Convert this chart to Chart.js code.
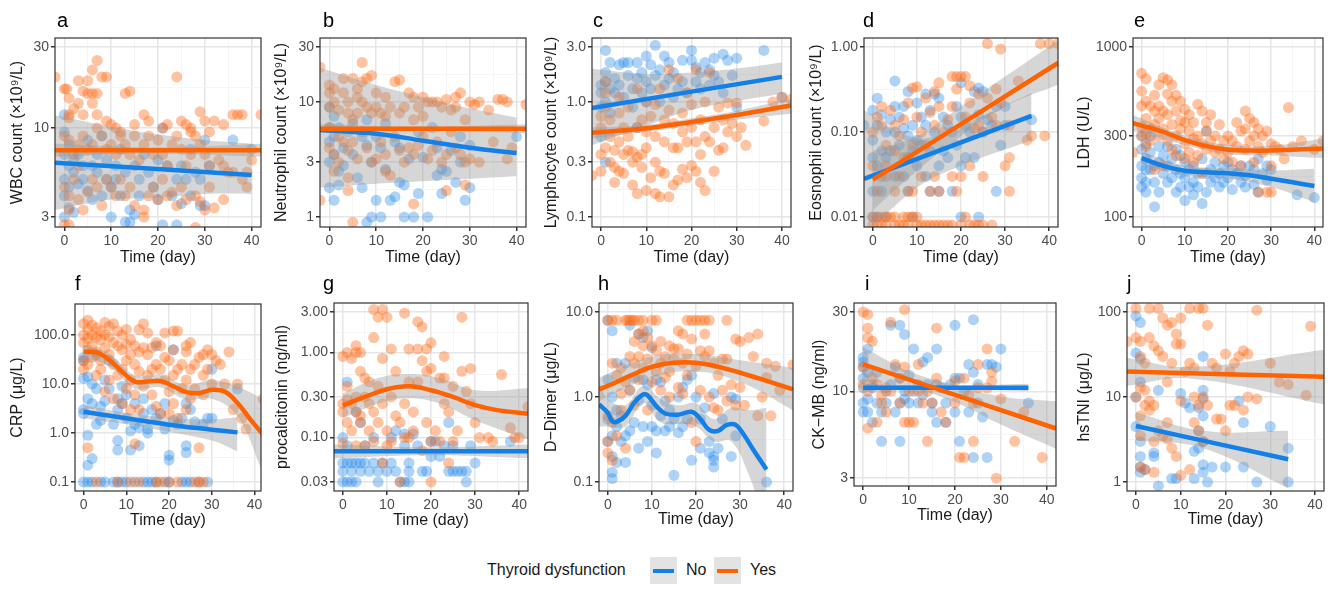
<!DOCTYPE html>
<html>
<head>
<meta charset="utf-8">
<script src="https://cdn.jsdelivr.net/npm/chart.js@4.4.1/dist/chart.umd.min.js"></script>
<style>
  body { margin: 0; background: #fff; }
  #fig { position: relative; width: 1330px; height: 592px; overflow: hidden; font-family: "Liberation Sans", Arial, Helvetica, sans-serif; color: #1a1a1a; }
  #fig canvas { position: absolute; }
  .tag { position: absolute; font-size: 20px; line-height: 20px; color: #000; }
  .lg { position: absolute; font-size: 16px; line-height: 20px; color: #1a1a1a; }
  .key { position: absolute; width: 27px; height: 27px; background: #e3e3e3; }
  .key span { position: absolute; left: 3px; top: 11.5px; width: 21px; height: 4px; }
</style>
</head>
<body>
<div id="fig"></div>
<script>
const FONT = '"Liberation Sans", Arial, Helvetica, sans-serif';
const BLUE = 'rgb(19,128,232)';
const ORANGE = 'rgb(255,98,0)';
const BLUE_PT = 'rgba(30,134,232,0.36)';
const ORANGE_PT = 'rgba(255,105,20,0.4)';
const BAND = 'rgba(153,153,153,0.4)';

// shared x axis
const xTicks = [0, 10, 20, 30, 40];
const xMinor = [5, 15, 25, 35];

// a: WBC
const aTicks = [3, 10, 30];
const aLabels = ['3', '10', '30'];
const aYes = [[-2,20],[0,17],[0.5,17],[1,15],[1,12],[1,11.5],[3,19],[3,14],[2,13],[4,12],[4,16.5],[5,19],[5,16],[6,22],[6,16],[7,25],[7,16],[6,14],[7,12],[8,20],[9,20],[9,11],[10,10.5],[11,10],[13,16],[14,16.5],[15,10.5],[12,9.5],[17,12],[18,11],[21,10],[22,10.5],[24,20],[25,11],[26,10.5],[27,10],[27,9.5],[29,12.5],[30,11],[32,11],[34,10.5],[36,12],[37,12],[38,12],[42,12],[31,9.5],[28,9],
  [0,9],[1,8.5],[2,7],[3,8],[3,6],[4,9],[5,7.5],[6,8],[7,10],[8,9],[9,7.5],[10,8],[11,7],[12,9],[13,8],[14,7],[15,9],[16,6.5],[17,8],[18,9],[19,7],[20,8.5],[21,7],[22,6],[23,8],[24,9],[25,7.5],[26,6],[27,7],[29,8],[30,7],[31,6],[33,6.5],[34,6],[35,5.5],[36,5.5],[38,5],[39,5.5],[40,6.5],[39,4.5],
  [0,4.5],[1,4],[1,3.3],[2,5],[3,3.8],[4,3.3],[5,4.2],[6,5],[7,4.5],[8,3.5],[9,5],[10,4.5],[11,4],[12,5],[13,4],[14,4.5],[15,3.5],[17,3.3],[17,3],[18,4],[19,4.5],[20,3.8],[21,5],[22,4],[23,4.2],[24,3.5],[25,4.5],[26,3.8],[28,4],[29,3.7],[30,3.3],[31,4.5],[32,3.4],[34,3.8],[0,2.7],[1,2.7],[28,2.6]];
const aNo = [[0,12],[0,9.5],[0,7],[0,5],[0,4],[0,3],[1,8],[1,6],[1,4.5],[1,3.4],[2,6.5],[2,5.5],[2,3.2],[3,7],[3,4.7],[4,6],[4,5],[5,8.5],[5,4.3],[6,6],[6,3.8],[7,7],[7,5.5],[8,4],[8,9],[9,6.5],[9,5],[10,4.5],[10,3],[11,6],[11,5],[12,7.5],[12,4],[13,2.8],[13,5.5],[14,3.3],[14,2.8],[15,3.1],[15,6],[16,5],[16,4],[17,7],[18,5.5],[19,4.5],[20,3.8],[20,6.5],[21,10],[21,2.7],[22,6],[23,4],[24,5],[24,2.7],[25,6],[25,3.6],[26,5],[27,7.5],[27,4],[28,5.5],[29,3.5],[30,8.5],[30,3.5],[29,5],[31,6],[36,8.5],[40,7.5]];
const aNoFit = [[-2,6.26],[40,5.3]];
const aYesFit = [[-2,7.4],[42,7.4]];
const aNoBand = [[-2,3.3,11.9],[10,3.8,10.2],[20,3.9,9.2],[30,4.1,8.5],[40,4.1,8.1]];
const aYesBand = [[-2,6.8,8.1],[20,7.1,7.7],[42,6.8,8.1]];

// b: neutrophil
const bTicks = [1, 3, 10, 30];
const bLabels = ['1', '3', '10', '30'];
const bYes = [[-2,20],[0,14],[0,12],[1,13],[1,10],[0,9],[2,8.5],[3,16],[3,12],[4,10],[4,8],[5,16],[5,7],[6,13],[6,11],[6,8],[7,22],[7,15],[7,10],[8,16],[8,9],[9,17],[9,8],[10,12],[10,9],[11,8],[12,7.5],[12,11],[13,9],[14,15],[15,15.5],[15,8],[16,9],[17,12],[18,11],[18,7],[19,9],[20,7.5],[20,11],[21,10],[22,10],[23,10],[24,9],[25,10.5],[26,8.5],[27,9],[27,11],[28,12],[29,7],[30,10],[31,9.5],[32,10],[34,8.5],[36,10.5],[37,10.5],[38,10],[42,9.5],
  [0,6],[0,4],[1,3.5],[1,2.5],[2,5],[2,3],[3,4.5],[4,3.8],[4,2.2],[5,4.5],[6,3.2],[7,5.5],[8,4],[9,3],[10,3.2],[11,4.5],[12,3.5],[12,2.5],[13,2.3],[14,5],[15,3.8],[16,3],[17,4],[18,3.5],[19,4.2],[20,5],[21,3.2],[22,3.8],[23,4.5],[24,3],[25,3.5],[26,5.5],[27,4],[28,3.5],[29,3],[30,3.2],[32,3],[35,4.5],[38,3.2],[39,4],
  [-2,1.4],[4,1.7],[5,0.9],[18,1.3],[25,1.7],[29,1.9]];
const bNo = [[0,9],[0,6],[0,4.5],[0,3],[0,1.8],[1,7.5],[1,5],[1,3.5],[1,1.4],[2,2.5],[2,6],[2,1.9],[3,4],[3,2.8],[4,5.5],[5,6.5],[5,3.5],[6,2.2],[7,5],[7,1.8],[8,7],[8,0.9],[8,4.2],[9,1],[9,3],[10,1.4],[10,5],[11,1],[11,4],[12,6.5],[12,2.6],[13,1.4],[14,4.5],[14,1.5],[15,2],[15,4],[16,1.9],[16,1],[17,3.2],[18,1],[19,5.5],[19,1.6],[20,3.3],[21,1],[22,6],[23,4],[23,2.3],[24,1.6],[24,2.6],[25,2.5],[26,3.8],[27,2],[28,3],[28,5],[29,1.4],[30,1.8],[30,4.2],[40,5]];
const bNoFit = [[-2,5.7],[10,5.3],[20,4.6],[30,4.0],[40,3.6]];
const bYesFit = [[-2,5.86],[42,5.86]];
const bNoBand = [[-2,1.8,19.8],[10,1.95,14],[20,2.05,11],[30,2.15,8.8],[40,2.26,7.3]];
const bYesBand = [[-2,5.4,6.4],[20,5.6,6.1],[42,5.4,6.4]];

// c: lymphocyte
const cTicks = [0.1, 0.3, 1, 3];
const cLabels = ['0.1', '0.3', '1.0', '3.0'];
const cYes = [[-2,0.23],[0,0.25],[0,0.35],[0,0.6],[0,0.75],[1,0.4],[1,1.5],[1,1.2],[1,0.9],[2,0.3],[2,0.5],[2,0.7],[3,0.38],[3,0.27],[3,0.2],[4,0.25],[4,0.45],[4,0.8],[4,1.1],[5,0.35],[5,0.6],[5,0.24],[6,0.38],[6,0.5],[6,0.9],[7,0.19],[7,0.3],[7,0.37],[8,0.16],[8,0.33],[8,0.6],[8,1.3],[9,0.35],[9,0.27],[9,0.7],[10,0.17],[10,0.4],[10,0.55],[10,1.0],[11,0.22],[11,0.75],[12,0.16],[12,0.5],[12,0.3],[12,0.95],[13,0.25],[13,0.15],[13,1.3],[14,0.24],[14,0.45],[14,0.7],[15,0.15],[15,0.85],[15,1.9],[16,0.19],[16,0.4],[16,0.65],[17,0.21],[17,0.4],[17,1.6],[18,0.26],[18,0.55],[18,0.8],[19,0.22],[19,0.45],[19,1.2],[20,0.28],[20,0.6],[20,0.95],[21,0.25],[21,0.45],[21,1.9],[22,0.2],[22,0.35],[22,0.7],[23,0.17],[23,0.5],[23,1.0],[24,0.45],[24,1.8],[25,0.25],[25,0.6],[26,0.9],[26,0.38],[27,0.4],[27,0.7],[28,0.55],[28,0.98],[29,0.65],[30,0.5],[30,0.98],[31,0.6],[32,0.42],[36,0.68],[38,1.0],[40,1.1],[42,1.05]];
const cNo = [[0,1.4],[0,1.2],[0,0.9],[0,0.5],[1,2.8],[1,1.8],[1,1.5],[1,1.0],[1,0.3],[2,2.2],[2,1.3],[2,0.8],[3,1.6],[3,1.2],[4,2.1],[4,1.4],[5,2.2],[5,1.1],[6,1.7],[6,2.2],[7,1.3],[7,0.9],[8,2.2],[8,1.6],[8,0.6],[9,1.8],[9,1.2],[10,2.5],[10,1.5],[10,1.0],[11,2.1],[11,1.3],[12,3.1],[12,1.7],[13,1.9],[13,1.0],[14,2.5],[14,1.4],[15,2.2],[15,1.6],[16,1.8],[16,1.1],[17,1.3],[18,2.3],[18,1.5],[19,1.2],[20,2.8],[20,2.3],[21,1.5],[21,2.0],[22,1.8],[22,1.3],[23,2.2],[24,1.9],[24,1.4],[25,2.4],[25,1.7],[26,1.5],[27,2.6],[27,1.2],[28,2.3],[29,1.7],[30,2.4],[30,0.9],[36,2.8],[40,1.1]];
const cNoFit = [[-2,0.887],[40,1.65]];
const cYesFit = [[-2,0.54],[10,0.59],[20,0.67],[30,0.77],[42,0.93]];
const cNoBand = [[-2,0.42,1.94],[10,0.62,1.75],[20,0.85,1.8],[30,1.02,1.95],[40,1.18,2.2]];
const cYesBand = [[-2,0.48,0.6],[10,0.55,0.63],[20,0.62,0.72],[30,0.7,0.84],[42,0.79,1.07]];

// d: eosinophil
const dTicks = [0.01, 0.1, 1];
const dLabels = ['0.01', '0.10', '1.00'];
const dYes = [[0,0.01],[0,0.008],[1,0.01],[1,0.008],[2,0.008],[3,0.01],[3,0.008],[4,0.01],[5,0.008],[5,0.01],[6,0.008],[7,0.008],[8,0.01],[8,0.008],[9,0.01],[10,0.01],[10,0.008],[11,0.008],[12,0.008],[13,0.008],[14,0.008],[15,0.008],[16,0.008],[17,0.008],[18,0.008],[20,0.008],[21,0.01],[22,0.008],[23,0.008],[24,0.008],[25,0.008],[27,0.008],[2,0.01],[7,0.01],
  [1,0.02],[3,0.03],[5,0.02],[6,0.03],[8,0.02],[9,0.02],[11,0.03],[13,0.02],[14,0.03],[15,0.02],[18,0.03],[19,0.02],[20,0.03],[22,0.04],[25,0.03],[3,0.04],[8,0.05],[0,0.04],[30,0.04],[31,0.02],[31,0.05],
  [0,0.1],[1,0.15],[2,0.2],[2,0.12],[3,0.07],[4,0.18],[5,0.06],[5,0.12],[6,0.09],[7,0.14],[7,0.05],[8,0.22],[9,0.33],[9,0.07],[10,0.34],[10,0.15],[11,0.1],[12,0.25],[12,0.07],[13,0.17],[14,0.3],[14,0.12],[15,0.38],[15,0.2],[16,0.1],[17,0.14],[18,0.45],[18,0.2],[19,0.32],[19,0.45],[20,0.45],[21,0.45],[21,0.15],[22,0.35],[22,0.22],[23,0.11],[24,0.28],[24,0.12],[25,0.1],[26,0.25],[27,0.15],[28,0.32],[28,0.12],[29,0.22],[31,0.12],[33,0.4],[35,0.08],[36,0.09],[39,0.09],[26,1.1],[29,0.95],[38,1.1],[40,1.1],[42,1.1]];
const dNo = [[-2,0.12],[0,0.08],[0,0.18],[0,0.05],[0,0.02],[1,0.25],[1,0.12],[1,0.04],[1,0.01],[2,0.16],[2,0.06],[2,0.03],[2,0.02],[3,0.1],[3,0.05],[4,0.14],[4,0.06],[5,0.4],[5,0.2],[5,0.1],[5,0.03],[6,0.15],[6,0.07],[7,0.2],[7,0.11],[7,0.03],[8,0.3],[8,0.09],[8,0.05],[8,0.02],[9,0.12],[9,0.06],[10,0.22],[10,0.08],[10,0.04],[11,0.15],[11,0.07],[12,0.28],[12,0.12],[12,0.03],[13,0.18],[13,0.06],[13,0.02],[14,0.28],[14,0.1],[15,0.25],[15,0.04],[15,0.02],[16,0.15],[16,0.06],[17,0.12],[17,0.05],[18,0.1],[18,0.02],[19,0.2],[19,0.07],[20,0.38],[20,0.15],[20,0.04],[21,0.12],[21,0.05],[22,0.1],[23,0.3],[23,0.05],[24,0.33],[24,0.16],[24,0.01],[25,0.3],[25,0.1],[26,0.14],[27,0.12],[28,0.02],[28,0.2],[29,0.07],[30,0.2],[30,0.12],[36,0.14],[0,0.01],[3,0.01],[20,0.01],[9,0.01]];
const dNoFit = [[-2,0.028],[36,0.155]];
const dYesFit = [[0,0.0275],[42,0.65]];
const dNoBand = [[-2,0.006,0.18],[10,0.022,0.085],[20,0.04,0.12],[36,0.08,0.29]];
const dYesBand = [[0,0.012,0.06],[10,0.035,0.09],[20,0.09,0.2],[30,0.2,0.45],[42,0.36,1.2]];

// e: LDH
const eTicks = [100, 300, 1000];
const eLabels = ['100', '300', '1000'];
const eYes = [[-2,240],[0,700],[0,550],[0,450],[0,340],[0,300],[1,650],[1,480],[1,380],[1,310],[1,260],[2,450],[2,330],[2,280],[3,520],[3,420],[3,350],[4,600],[4,450],[4,380],[4,300],[5,660],[5,420],[5,330],[6,640],[6,530],[6,400],[6,280],[7,600],[7,480],[7,350],[7,250],[8,520],[8,420],[8,300],[8,230],[9,480],[9,370],[9,330],[10,430],[10,360],[10,270],[10,220],[11,400],[11,320],[11,240],[12,360],[12,290],[12,210],[13,460],[13,300],[13,230],[14,420],[14,270],[14,180],[15,360],[15,320],[15,250],[16,400],[16,280],[17,300],[17,240],[18,350],[18,250],[19,280],[19,220],[20,300],[20,240],[21,280],[21,210],[22,360],[22,260],[23,320],[23,200],[24,420],[24,330],[24,250],[25,380],[25,280],[26,360],[26,300],[26,210],[27,330],[27,260],[28,300],[28,240],[29,320],[29,140],[30,270],[30,200],[31,260],[32,250],[33,220],[34,440],[35,260],[37,280],[40,250],[42,280],[27,140],[30,140],[3,190],[5,200]];
const eNo = [[0,300],[0,250],[0,200],[0,170],[0,150],[1,270],[1,220],[1,190],[1,160],[1,140],[2,300],[2,240],[2,190],[3,200],[3,160],[3,115],[4,260],[4,210],[4,140],[5,230],[5,180],[6,260],[6,200],[6,160],[7,220],[7,170],[8,250],[8,190],[8,140],[9,230],[9,180],[9,150],[10,210],[10,170],[10,125],[11,190],[11,150],[12,200],[12,160],[12,135],[13,180],[13,150],[14,220],[14,120],[15,320],[15,180],[15,140],[16,190],[16,160],[17,210],[17,170],[18,180],[18,150],[19,200],[19,160],[20,210],[20,170],[21,190],[21,145],[22,180],[23,200],[23,160],[24,175],[24,150],[25,200],[26,190],[26,155],[27,220],[27,140],[28,180],[29,200],[29,165],[30,190],[36,135],[40,130]];
const eNoFit = [[0,222],[5,200],[10,187],[15,183],[20,181],[25,176],[30,168],[35,160],[40,152]];
const eYesFit = [[-2,356],[0,345],[5,317],[10,283],[15,261],[20,249],[25,246],[30,246],[35,249],[42,253]];
const eNoBand = [[0,205,242],[10,175,200],[20,168,195],[30,150,188],[40,122,192]];
const eYesBand = [[-2,320,398],[10,265,302],[20,234,266],[30,230,263],[42,222,290]];

// f: CRP
const fTicks = [0.1, 1, 10, 100];
const fLabels = ['0.1', '1.0', '10.0', '100.0'];
const fYes = [[0,170],[0,100],[0,70],[0,30],[0,20],[1,200],[1,130],[1,85],[1,50],[1,25],[1,0.5],[2,160],[2,100],[2,60],[2,35],[3,140],[3,90],[3,45],[3,15],[4,120],[4,80],[4,30],[4,20],[5,180],[5,100],[5,55],[5,7],[6,150],[6,90],[6,40],[6,12],[7,170],[7,70],[7,25],[7,5],[8,120],[8,60],[8,15],[9,100],[9,50],[9,20],[9,4],[10,130],[10,65],[10,30],[10,8],[11,80],[11,40],[11,12],[11,3],[12,60],[12,25],[12,6],[12,0.6],[13,130],[13,45],[13,18],[13,3],[14,170],[14,55],[14,9],[15,110],[15,40],[15,15],[16,55],[16,20],[16,6],[17,70],[17,25],[17,3.5],[18,60],[18,20],[18,2.5],[18,0.1],[19,110],[19,35],[19,12],[20,30],[20,7],[20,2.5],[21,120],[21,50],[21,15],[21,4],[22,120],[22,20],[22,2],[23,25],[23,8],[24,60],[24,45],[24,12],[24,3],[25,70],[25,20],[25,5],[26,25],[26,8],[27,35],[27,0.5],[28,40],[28,15],[28,6],[29,50],[29,20],[30,40],[30,10],[31,30],[32,25],[33,10],[34,45],[35,3],[36,10],[37,2],[38,1.2],[42,5],[3,0.1],[8,0.1],[11,0.1],[13,0.1],[17,0.1],[20,0.1],[22,0.1],[26,0.1],[27,0.1],[28,0.1]];
const fNo = [[0,35],[0,30],[0,13],[0,3],[0,2.5],[1,14],[1,5],[1,0.9],[1,0.22],[2,10],[2,4],[2,0.3],[3,40],[3,8],[3,1.5],[4,3.5],[4,1.8],[5,12],[5,4.5],[6,30],[6,8],[7,1.5],[8,5],[8,3],[8,0.7],[8,0.45],[9,9],[9,4],[10,6],[10,2],[11,1.1],[11,0.45],[12,4],[12,1.5],[13,1.3],[13,0.55],[14,5],[14,2.5],[15,1.2],[15,1.0],[16,3],[17,2],[17,60],[18,2.5],[19,4],[19,1.2],[20,0.35],[20,0.28],[21,50],[21,1.8],[22,1.5],[23,2],[24,4],[24,0.55],[24,0.4],[25,3],[26,1.7],[28,1.5],[29,2],[30,20],[30,2],[36,8],[0,0.1],[1,0.1],[2,0.1],[4,0.1],[5,0.1],[7,0.1],[8,0.1],[9,0.1],[10,0.1],[12,0.1],[14,0.1],[15,0.1],[16,0.1],[17,0.1],[19,0.1],[20,0.1],[23,0.1],[24,0.1],[25,0.1],[27,0.1],[29,0.1]];
const fNoFit = [[0,2.72],[10,2.0],[20,1.48],[30,1.17],[36,1.03]];
const fYesFit = [[0,45.7],[3,44],[6,31],[9,17.9],[12,11.2],[15,11.2],[18,11.5],[21,9.0],[24,6.8],[27,6.5],[30,7.6],[33,7.0],[36,4.1],[39,1.9],[42,0.92]];
const fNoBand = [[0,2.0,3.7],[10,1.5,2.6],[20,1.05,2.05],[30,0.7,1.9],[36,0.42,2.1]];
const fYesBand = [[0,33,62],[6,23,42],[12,8,15],[18,8.5,15.5],[24,4.8,9.5],[30,5,12],[36,2.2,8.8],[42,0.15,5]];

// g: procalcitonin
const gTicks = [0.03, 0.1, 0.3, 1, 3];
const gLabels = ['0.03', '0.10', '0.30', '1.00', '3.00'];
const gYes = [[0,0.9],[0,0.25],[0,0.2],[0,0.085],[1,1.0],[1,0.4],[1,0.28],[1,0.15],[2,0.85],[2,0.25],[2,0.12],[3,1.2],[3,1.0],[3,0.3],[3,0.2],[3,0.08],[4,1.0],[4,0.6],[4,0.18],[4,0.15],[5,0.5],[5,0.3],[5,0.08],[6,0.25],[6,0.45],[6,0.12],[7,3.2],[7,1.5],[7,0.2],[7,0.09],[8,2.6],[8,0.4],[8,0.15],[9,3.2],[9,0.85],[9,0.25],[9,0.05],[10,2.6],[10,0.12],[10,0.08],[11,1.1],[11,0.3],[11,0.09],[12,0.6],[12,0.18],[13,0.15],[13,0.03],[14,2.9],[14,0.25],[14,0.1],[15,1.1],[15,0.45],[15,0.1],[16,0.2],[16,0.12],[17,2.3],[17,1.1],[17,0.45],[18,2.0],[18,0.8],[18,0.07],[19,1.1],[19,0.6],[19,0.15],[20,1.3],[20,0.65],[20,0.09],[20,0.03],[21,0.12],[22,0.5],[22,0.09],[23,0.9],[23,0.5],[23,0.25],[24,0.2],[24,0.05],[25,0.4],[25,0.09],[26,0.12],[27,2.6],[27,0.6],[28,0.35],[29,0.65],[29,0.25],[30,0.15],[31,0.1],[33,0.1],[34,0.09],[36,0.55],[38,0.13],[39,0.1],[40,0.1],[42,0.23]];
const gNo = [[0,0.1],[0,0.05],[0,0.04],[0,0.03],[1,0.45],[1,0.08],[1,0.05],[1,0.03],[2,0.05],[2,0.04],[2,0.03],[3,0.2],[3,0.05],[3,0.03],[4,0.15],[4,0.05],[4,0.04],[5,0.05],[5,0.08],[6,0.04],[7,0.1],[7,0.05],[8,0.04],[8,0.03],[9,0.05],[10,0.04],[11,0.1],[11,0.05],[12,0.12],[12,0.04],[13,0.03],[14,0.11],[14,0.08],[14,0.03],[15,0.05],[15,0.04],[15,0.03],[16,0.11],[17,0.08],[18,0.04],[19,0.04],[20,0.09],[20,0.06],[21,0.09],[22,0.06],[23,0.08],[24,0.15],[24,0.04],[25,0.08],[25,0.04],[26,0.04],[27,0.04],[28,0.03],[28,0.04],[29,0.08],[30,0.05],[38,0.09]];
const gNoFit = [[-2,0.069],[42,0.069]];
const gYesFit = [[0,0.238],[5,0.30],[10,0.37],[15,0.40],[20,0.36],[25,0.30],[30,0.24],[35,0.21],[42,0.19]];
const gNoBand = [[-2,0.057,0.083],[20,0.062,0.077],[42,0.057,0.083]];
const gYesBand = [[0,0.17,0.33],[8,0.25,0.5],[15,0.29,0.56],[22,0.25,0.5],[30,0.16,0.36],[42,0.095,0.38]];

// h: D-dimer
const hTicks = [0.1, 1, 10];
const hLabels = ['0.1', '1.0', '10.0'];
const hYes = [[0,8],[1,8],[2,8],[4,8],[4.5,8],[5,8],[5.5,8],[6,8],[7,8],[8,8],[10,8],[11,8],[18,8],[19,8],[20,8],[21,8],[22,8],[23,8],[27,8],
  [0,0.6],[0,0.3],[0,0.22],[1,2.5],[1,0.18],[1,0.5],[2,1.8],[2,0.35],[3,2.2],[3,1.1],[3,0.7],[4,1.5],[4,0.25],[5,3],[5,1.2],[6,4.5],[6,2.5],[6,0.8],[7,5.5],[7,3],[7,1.6],[8,6],[8,4],[8,2.2],[9,5],[9,2.8],[9,0.7],[10,4],[10,1.5],[11,3.5],[11,2.0],[12,4.5],[12,2.5],[12,1.2],[13,3],[13,1.7],[14,4],[14,2],[14,1.0],[15,3.7],[15,2.8],[16,6],[16,3.7],[16,1.3],[17,5.5],[17,2.5],[17,1.1],[18,3.2],[18,1.8],[19,0.5],[19,4.8],[20,2.3],[20,0.3],[21,3.5],[21,1.2],[22,5.5],[22,3],[23,3.5],[23,1.0],[24,2.5],[24,0.75],[25,1.8],[25,0.7],[26,2.8],[26,1.2],[27,2.8],[27,0.9],[28,1.4],[29,4.8],[29,0.8],[30,4.5],[30,1.3],[31,0.8],[32,5],[33,3],[34,5.5],[34,0.6],[35,1],[36,2.5],[36,1.7],[37,0.6],[38,2.3],[39,1.2],[42,2.4]];
const hNo = [[0,8],[0,1.6],[0,0.55],[0,0.3],[1,6],[1,1],[1,0.35],[1,0.2],[1,0.13],[1,0.11],[2,2.5],[2,0.7],[2,0.45],[2,0.17],[3,0.3],[3,0.6],[4,2.5],[4,0.35],[4,0.17],[5,7],[5,1.2],[5,0.4],[6,1.7],[6,0.5],[7,5.5],[7,0.9],[7,0.25],[8,5],[8,1.6],[8,0.45],[9,6],[9,1.4],[9,0.3],[10,3.8],[10,0.8],[10,0.45],[11,1.6],[11,0.4],[11,0.22],[12,1.5],[12,0.6],[13,0.9],[13,0.4],[14,0.7],[14,0.45],[15,0.55],[15,0.12],[16,1.0],[16,0.38],[17,1.3],[17,0.45],[18,1.6],[18,0.55],[19,1.8],[19,0.18],[20,1.0],[21,0.55],[21,0.25],[22,0.75],[23,0.3],[23,0.22],[24,1.1],[24,0.2],[24,0.15],[24,0.18],[25,0.25],[26,0.55],[28,0.2],[28,1.0],[29,0.95],[29,0.35],[36,0.1]];
const hNoFit = [[-2,0.82],[0,0.65],[1,0.52],[2,0.51],[4,0.6],[6,0.86],[8,1.07],[9,1.05],[11,0.78],[13,0.64],[16,0.62],[19,0.67],[21,0.55],[23,0.41],[25,0.40],[27,0.47],[29,0.47],[31,0.35],[33,0.24],[36,0.14]];
const hYesFit = [[-2,1.23],[0,1.35],[5,1.77],[10,2.27],[15,2.53],[20,2.53],[25,2.27],[30,1.93],[35,1.61],[42,1.23]];
const hNoBand = [[-2,0.45,1.5],[0,0.45,0.95],[4,0.45,0.8],[8,0.85,1.35],[12,0.5,0.95],[16,0.48,0.8],[20,0.45,0.85],[24,0.3,0.55],[28,0.3,0.75],[32,0.12,0.7],[36,0.03,0.75]];
const hYesBand = [[-2,0.9,1.7],[10,1.7,3.0],[20,2.0,3.2],[30,1.5,2.7],[42,0.7,2.2]];

// i: CK-MB
const iTicks = [3, 10, 30];
const iLabels = ['3', '10', '30'];
const iYes = [[0,30],[0,14],[0,11],[1,29],[1,21],[1,24],[1,10],[1,6],[2,20],[2,12],[3,6.5],[3,11],[4,8.5],[4,9.5],[5,10.5],[5,7.5],[6,26],[6,10],[7,14.5],[8,8.5],[8,12],[9,31],[9,14],[9,6.5],[10,6.5],[10,10],[11,6.5],[12,14.5],[12,10],[13,8.5],[14,5],[14,10],[15,8.5],[16,24],[16,12],[17,7.5],[18,6.5],[20,11.5],[20,8.5],[21,4],[22,4],[22,12],[23,9.5],[24,5],[24,8.5],[25,14.5],[25,10.5],[27,18],[27,10.5],[28,11.5],[28,13],[29,3],[30,9],[33,5],[35,7.5],[39,4]];
const iNo = [[0,16],[0,15],[0,14],[0,12],[0,10.5],[0,8.5],[0,7.5],[1,18],[1,13],[1,9],[1,7.5],[2,10.5],[2,11],[2,6.5],[3,13],[3,8.5],[4,7.5],[4,5],[5,10],[5,8.5],[6,25],[6,11],[7,14],[7,7.5],[8,25],[8,12],[8,8.5],[8,5],[9,22],[9,10],[9,9],[10,12.5],[10,8.5],[11,18],[11,10],[12,11],[12,8.5],[13,15],[13,9.5],[14,16],[14,11],[15,8.5],[15,7.5],[16,18],[16,11],[16,6.5],[17,10.5],[18,8.5],[18,6.5],[19,11],[20,25],[20,12],[20,7.5],[21,12],[21,5],[22,10],[23,14.5],[23,7.5],[24,27],[24,13],[24,4],[25,11],[25,8.5],[26,7],[27,14.5],[27,4],[28,14.5],[29,14],[30,18],[36,8.5]];
const iNoFit = [[0,10.5],[36,10.5]];
const iYesFit = [[0,14.5],[42,5.97]];
const iNoBand = [[0,10.0,11.1],[18,10.2,10.8],[36,10.0,11.1]];
const iYesBand = [[0,11.5,18.5],[10,10.5,13.2],[20,8.6,10.9],[30,6.3,9.3],[42,4.5,8.7]];

// j: hsTNI
const jTicks = [1, 10, 100];
const jLabels = ['1', '10', '100'];
const jYes = [[-2,45],[0,110],[0,50],[0,10],[1,45],[1,30],[1,13],[1,6],[1,3.5],[2,25],[2,12],[2,8],[2,1.4],[3,110],[3,50],[3,9],[3,7],[4,40],[4,8],[4,3],[5,110],[5,35],[5,4],[6,85],[6,30],[6,3.5],[7,70],[7,15],[7,5],[8,75],[8,25],[8,2.5],[9,55],[9,42],[9,2],[10,85],[10,42],[10,9],[10,1.2],[11,20],[12,25],[12,110],[12,1.4],[13,22],[13,10],[13,5],[14,110],[14,8],[14,4],[15,110],[15,10],[15,3],[16,70],[16,8],[17,25],[18,22],[18,5.5],[19,5.5],[20,32],[20,4],[21,20],[21,8],[22,25],[22,8],[23,30],[24,35],[24,7],[25,32],[25,10],[27,105],[27,9.5],[30,25],[32,15],[34,14],[38,10.5],[39,68],[1,1.5],[4,1.3],[7,3.2]];
const jNo = [[0,90],[0,33],[0,10],[0,4.5],[1,75],[1,28],[1,15],[1,3],[1,2],[1,1.5],[1,1.3],[2,1.4],[4,2.2],[4,2],[5,12],[5,0.9],[8,1.1],[9,1.1],[10,11],[11,8.5],[12,7.5],[13,2.3],[13,1.1],[14,7.5],[14,4],[14,2.5],[15,30],[15,12],[15,9.5],[15,6],[15,3],[15,1.6],[15,1.3],[16,1],[17,1.5],[20,1.5],[23,9],[24,5],[24,1.5],[27,1],[30,4.5],[34,2.5],[34,1]];
const jNoFit = [[0,4.56],[34,1.85]];
const jYesFit = [[-2,19.9],[42,17.3]];
const jNoBand = [[0,3.1,6.6],[15,2.5,4.0],[34,0.85,4.0]];
const jYesBand = [[-2,13.5,29],[12,16.5,22.5],[42,8.2,36]];

// layout: box = plot area [left, top, right, bottom] in page px
const panels = [
  {tag:'a', ytitle:'WBC count (×10⁹/L)', no:aNo, yes:aYes, noFit:aNoFit, yesFit:aYesFit, noBand:aNoBand, yesBand:aYesBand, ticks:aTicks, labels:aLabels, ymin:2.62, ymax:33.9, box:[55,38,261,227], titleX:18, titleY:257, tagPos:[57,10]},
  {tag:'b', ytitle:'Neutrophil count (×10⁹/L)', no:bNo, yes:bYes, noFit:bNoFit, yesFit:bYesFit, noBand:bNoBand, yesBand:bYesBand, ticks:bTicks, labels:bLabels, ymin:0.82, ymax:35.9, box:[320,38,526,227], titleX:282, titleY:257, tagPos:[323,10]},
  {tag:'c', ytitle:'Lymphocyte count (×10⁹/L)', no:cNo, yes:cYes, noFit:cNoFit, yesFit:cYesFit, noBand:cNoBand, yesBand:cYesBand, ticks:cTicks, labels:cLabels, ymin:0.082, ymax:3.59, box:[592,38,791,227], titleX:552, titleY:257, tagPos:[593,10]},
  {tag:'d', ytitle:'Eosnophil count (×10⁹/L)', no:dNo, yes:dYes, noFit:dNoFit, yesFit:dYesFit, noBand:dNoBand, yesBand:dYesBand, ticks:dTicks, labels:dLabels, ymin:0.0076, ymax:1.28, box:[864,38,1058,227], titleX:817, titleY:257, tagPos:[863,10]},
  {tag:'e', ytitle:'LDH (U/L)', no:eNo, yes:eYes, noFit:eNoFit, yesFit:eYesFit, noBand:eNoBand, yesBand:eYesBand, ticks:eTicks, labels:eLabels, ymin:87.3, ymax:1130, box:[1133,38,1323,227], titleX:1085, titleY:257, tagPos:[1134,10]},
  {tag:'f', ytitle:'CRP (μg/L)', no:fNo, yes:fYes, noFit:fNoFit, yesFit:fYesFit, noBand:fNoBand, yesBand:fYesBand, ticks:fTicks, labels:fLabels, ymin:0.0655, ymax:429, box:[75,304,261,491], titleX:18, titleY:520, tagPos:[75,273], xmax:41.5},
  {tag:'g', ytitle:'procalcitonin (ng/ml)', no:gNo, yes:gYes, noFit:gNoFit, yesFit:gYesFit, noBand:gNoBand, yesBand:gYesBand, ticks:gTicks, labels:gLabels, ymin:0.0235, ymax:3.82, box:[334,303,528,491], titleX:283, titleY:520, tagPos:[323,273]},
  {tag:'h', ytitle:'D−Dimer (μg/L)', no:hNo, yes:hYes, noFit:hNoFit, yesFit:hYesFit, noBand:hNoBand, yesBand:hYesBand, ticks:hTicks, labels:hLabels, ymin:0.0784, ymax:12.76, box:[599,303,793,491], titleX:552, titleY:519, tagPos:[598,273]},
  {tag:'i', ytitle:'CK−MB (ng/ml)', no:iNo, yes:iYes, noFit:iNoFit, yesFit:iYesFit, noBand:iNoBand, yesBand:iYesBand, ticks:iTicks, labels:iLabels, ymin:2.69, ymax:34.0, box:[854,303,1056,486], titleX:820, titleY:515, tagPos:[865,273]},
  {tag:'j', ytitle:'hsTNI (μg/L)', no:jNo, yes:jYes, noFit:jNoFit, yesFit:jYesFit, noBand:jNoBand, yesBand:jYesBand, ticks:jTicks, labels:jLabels, ymin:0.784, ymax:127.6, box:[1127,303,1324,491], titleX:1085, titleY:519, tagPos:[1127,273]},
];

const panelBorder = {
  id: 'panelBorder',
  afterDatasetsDraw(chart) {
    const {ctx, chartArea: a} = chart;
    ctx.save();
    ctx.strokeStyle = '#333333';
    ctx.lineWidth = 1.2;
    ctx.strokeRect(a.left, a.top, a.right - a.left, a.bottom - a.top);
    ctx.restore();
  }
};

const fig = document.getElementById('fig');
const xy = arr => arr.map(([x, y]) => ({x, y}));
const lineDs = (arr, color) => ({type: 'line', data: xy(arr), borderColor: color, borderWidth: 4.5, pointRadius: 0, fill: false, tension: 0.4, clip: 0});
const bandHi = arr => ({type: 'line', data: arr.map(([x, lo, hi]) => ({x, y: hi})), borderWidth: 0, pointRadius: 0, backgroundColor: BAND, fill: '+1', tension: 0.4, clip: 0});
const bandLo = arr => ({type: 'line', data: arr.map(([x, lo, hi]) => ({x, y: lo})), borderWidth: 0, pointRadius: 0, fill: false, tension: 0.4, clip: 0});
const ptsDs = (arr, color) => ({type: 'scatter', data: xy(arr), backgroundColor: color, borderWidth: 0, pointRadius: 5.5, clip: 0});

function makePanel(p) {
  const [L, T, R, B] = p.box;
  const PT = 12, PR = 6;
  const cl = p.titleX - 10, ct = T - PT;
  const W = Math.round(R + PR - cl), H = Math.round(p.titleY + 9.6 - ct);
  const yw = L - cl, xh = H - PT - (B - T);

  const cv = document.createElement('canvas');
  cv.width = W; cv.height = H;
  cv.style.left = cl + 'px'; cv.style.top = ct + 'px';
  cv.style.width = W + 'px'; cv.style.height = H + 'px';
  fig.appendChild(cv);

  const tag = document.createElement('div');
  tag.className = 'tag';
  tag.textContent = p.tag;
  tag.style.left = p.tagPos[0] + 'px'; tag.style.top = p.tagPos[1] + 'px';
  fig.appendChild(tag);

  const yMinor = [];
  for (let k = 0; k < p.ticks.length - 1; k++) yMinor.push(Math.sqrt(p.ticks[k] * p.ticks[k + 1]));
  const isMajorY = v => p.ticks.some(t => Math.abs(Math.log10(t) - Math.log10(v)) < 1e-6);
  const isMajorX = v => xTicks.includes(v);

  new Chart(cv, {
    type: 'scatter',
    data: {
      datasets: [
        lineDs(p.yesFit, ORANGE),
        lineDs(p.noFit, BLUE),
        bandHi(p.yesBand), bandLo(p.yesBand),
        bandHi(p.noBand), bandLo(p.noBand),
        ptsDs(p.yes, ORANGE_PT),
        ptsDs(p.no, BLUE_PT),
      ]
    },
    options: {
      responsive: false,
      animation: false,
      events: [],
      layout: {padding: {left: 0, top: PT, right: PR, bottom: 0}},
      plugins: {legend: {display: false}, tooltip: {enabled: false}},
      scales: {
        x: {
          type: 'linear', min: -2, max: p.xmax || 42, bounds: 'data',
          afterBuildTicks: s => { s.ticks = xTicks.concat(xMinor).sort((a, b) => a - b).map(v => ({value: v})); },
          afterFit: s => { s.height = xh; },
          ticks: {autoSkip: false, maxRotation: 0, padding: 2, color: '#4D4D4D', font: {family: FONT, size: 14},
                  callback: v => isMajorX(v) ? String(v) : ''},
          grid: {
            color: c => (c.tick && isMajorX(c.tick.value)) ? '#E6E6E6' : '#F2F2F2',
            lineWidth: c => (c.tick && isMajorX(c.tick.value)) ? 1.5 : 0.8,
            tickColor: c => (c.tick && isMajorX(c.tick.value)) ? '#333333' : 'rgba(0,0,0,0)',
            tickLength: 4
          },
          border: {display: false},
          title: {display: true, text: 'Time (day)', color: '#1A1A1A', font: {family: FONT, size: 16}, padding: 0}
        },
        y: {
          type: 'logarithmic', min: p.ymin, max: p.ymax, bounds: 'data',
          afterBuildTicks: s => { s.ticks = p.ticks.concat(yMinor).sort((a, b) => a - b).map(v => ({value: v})); },
          afterFit: s => { s.width = yw; },
          ticks: {autoSkip: false, padding: 2, color: '#4D4D4D', font: {family: FONT, size: 14},
                  callback: v => { const k = p.ticks.findIndex(t => Math.abs(Math.log10(t) - Math.log10(v)) < 1e-6); return k >= 0 ? p.labels[k] : ''; }},
          grid: {
            color: c => (c.tick && isMajorY(c.tick.value)) ? '#E6E6E6' : '#F2F2F2',
            lineWidth: c => (c.tick && isMajorY(c.tick.value)) ? 1.5 : 0.8,
            tickColor: c => (c.tick && isMajorY(c.tick.value)) ? '#333333' : 'rgba(0,0,0,0)',
            tickLength: 4
          },
          border: {display: false},
          title: {display: true, text: p.ytitle, color: '#1A1A1A', font: {family: FONT, size: 16}, padding: 0}
        }
      }
    },
    plugins: [panelBorder]
  });
}

panels.forEach(makePanel);

// legend
function addDiv(cls, left, top, text, color) {
  const d = document.createElement('div');
  d.className = cls;
  d.style.left = left + 'px'; d.style.top = top + 'px';
  if (text) d.textContent = text;
  if (color) { const s = document.createElement('span'); s.style.background = color; d.appendChild(s); }
  fig.appendChild(d);
}
addDiv('lg', 487, 560, 'Thyroid dysfunction');
addDiv('key', 650, 557, null, BLUE);
addDiv('lg', 686, 560, 'No');
addDiv('key', 714, 557, null, ORANGE);
addDiv('lg', 750, 560, 'Yes');
</script>
</body>
</html>
